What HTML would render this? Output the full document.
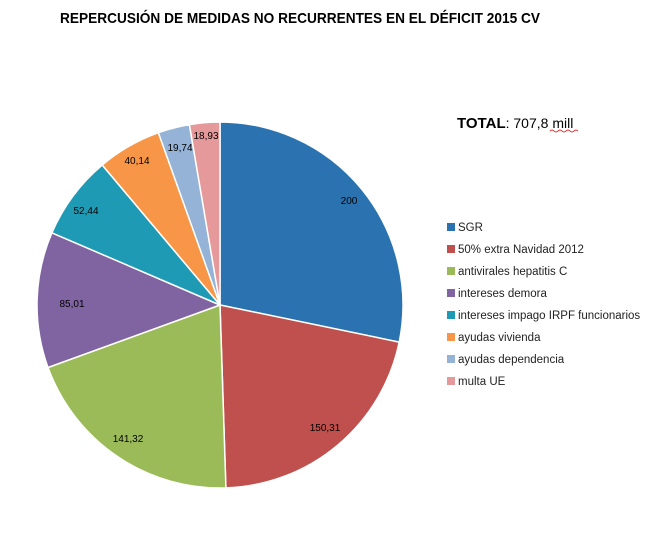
<!DOCTYPE html>
<html><head><meta charset="utf-8"><style>
body{margin:0;background:#fff;width:650px;height:541px;overflow:hidden}
svg{display:block}
text{font-family:"Liberation Sans",sans-serif}
</style></head><body>
<svg width="650" height="541" viewBox="0 0 650 541">
<text x="60" y="23" textLength="480" lengthAdjust="spacingAndGlyphs" font-size="15" font-weight="bold" fill="#000">REPERCUSIÓN DE MEDIDAS NO RECURRENTES EN EL DÉFICIT 2015 CV</text>
<text x="457" y="128" font-size="15"><tspan font-weight="bold">TOTAL</tspan><tspan font-size="14">: 707,8 mill</tspan></text>
<path d="M550 131 q2 -2 4 0 t4 0 t4 0 t4 0 t4 0 t4 0 t4 0" stroke="#d00" stroke-width="0.8" fill="none"/>
<g stroke="#fff" stroke-width="1.5">
<path d="M220 305 L220 122 A183 183 0 0 1 399.2 342.1Z" fill="#2a73b0"/>
<path d="M220 305 L399.2 342.1 A183 183 0 0 1 225.9 487.9Z" fill="#c0504d"/>
<path d="M220 305 L225.9 487.9 A183 183 0 0 1 48 367.5Z" fill="#9bbb59"/>
<path d="M220 305 L48 367.5 A183 183 0 0 1 51.9 232.8Z" fill="#8064a2"/>
<path d="M220 305 L51.9 232.8 A183 183 0 0 1 102.2 165Z" fill="#1f9ab5"/>
<path d="M220 305 L102.2 165 A183 183 0 0 1 158.4 132.7Z" fill="#f79646"/>
<path d="M220 305 L158.4 132.7 A183 183 0 0 1 189.4 124.6Z" fill="#95b3d7"/>
<path d="M220 305 L189.4 124.6 A183 183 0 0 1 220 122Z" fill="#e6999a"/>
</g>
<g font-size="10" fill="#000" text-anchor="middle">
<text x="349" y="204">200</text>
<text x="325" y="431">150,31</text>
<text x="128" y="442">141,32</text>
<text x="72" y="307">85,01</text>
<text x="86" y="214">52,44</text>
<text x="137" y="164">40,14</text>
<text x="180" y="151">19,74</text>
<text x="206" y="139">18,93</text>
</g>
<g font-size="11.5" fill="#222">
<rect x="447" y="223" width="8" height="8" fill="#2a73b0"/><text x="458" y="231">SGR</text>
<rect x="447" y="245" width="8" height="8" fill="#c0504d"/><text x="458" y="253">50% extra Navidad 2012</text>
<rect x="447" y="267" width="8" height="8" fill="#9bbb59"/><text x="458" y="275">antivirales hepatitis C</text>
<rect x="447" y="289" width="8" height="8" fill="#8064a2"/><text x="458" y="297">intereses demora</text>
<rect x="447" y="311" width="8" height="8" fill="#1f9ab5"/><text x="458" y="319">intereses impago IRPF funcionarios</text>
<rect x="447" y="333" width="8" height="8" fill="#f79646"/><text x="458" y="341">ayudas vivienda</text>
<rect x="447" y="355" width="8" height="8" fill="#95b3d7"/><text x="458" y="363">ayudas dependencia</text>
<rect x="447" y="377" width="8" height="8" fill="#e6999a"/><text x="458" y="385">multa UE</text>
</g>
</svg>
</body></html>
